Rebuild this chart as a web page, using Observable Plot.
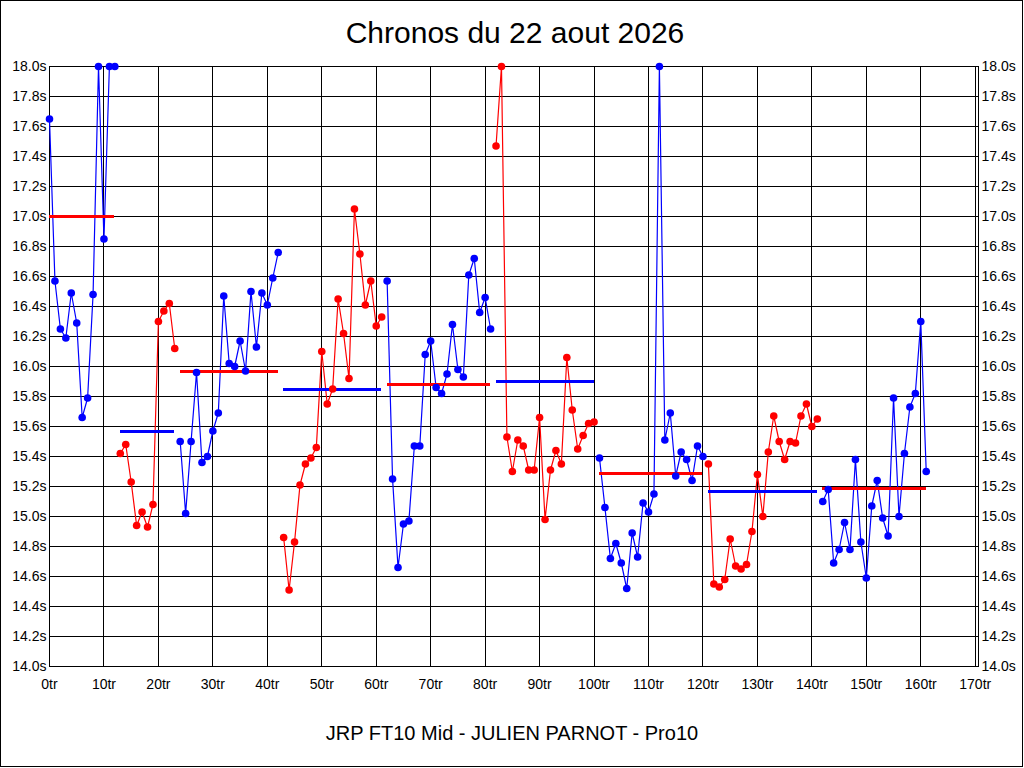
<!DOCTYPE html>
<html>
<head>
<meta charset="utf-8">
<script src="https://cdn.jsdelivr.net/npm/d3@7"></script>
<script src="https://cdn.jsdelivr.net/npm/@observablehq/plot@0.6"></script>
<style>
  html, body { margin: 0; padding: 0; background: #fff; }
  #wrap { position: relative; width: 1024px; height: 768px; background: #fff; overflow: hidden; font-family: "Liberation Sans", Arial, sans-serif; }
  #border { position: absolute; left: 0; top: 0; width: 1023px; height: 767px; box-sizing: border-box; border: 1px solid #000; pointer-events: none; }
  #title { position: absolute; left: 0; width: 1030px; top: 18px; text-align: center; font-size: 30px; line-height: 30px; color: #000; }
  #caption { position: absolute; left: 0; width: 1024px; top: 723px; text-align: center; font-size: 20px; line-height: 20px; color: #000; }
  #chart { position: absolute; left: 0; top: 0; }
</style>
</head>
<body>
<div id="wrap">
  <div id="chart"></div>
  <div id="title">Chronos du 22 aout 2026</div>
  <div id="caption">JRP FT10 Mid - JULIEN PARNOT - Pro10</div>
  <div id="border"></div>
</div>
<script>
// Lap times (seconds) per stint
const stint1 = [17.65, 16.57, 16.25, 16.19, 16.49, 16.29, 15.66, 15.79, 16.48, 18.0, 16.85, 18.0, 18.0];
const stint2 = [15.42, 15.48, 15.23, 14.94, 15.03, 14.93, 15.08, 16.30, 16.37, 16.42, 16.12];
const stint3 = [15.50, 15.02, 15.50, 15.96, 15.36, 15.40, 15.57, 15.69, 16.47, 16.02, 16.00, 16.17, 15.97, 16.50, 16.13, 16.49, 16.41, 16.59, 16.76];
const stint4 = [14.86, 14.51, 14.83, 15.21, 15.35, 15.39, 15.46, 16.10, 15.75, 15.85, 16.45, 16.22, 15.92, 17.05, 16.75, 16.41, 16.57, 16.27, 16.33];
const stint5 = [16.57, 15.25, 14.66, 14.95, 14.97, 15.47, 15.47, 16.08, 16.17, 15.86, 15.82, 15.95, 16.28, 15.98, 15.93, 16.61, 16.72, 16.36, 16.46, 16.25];
const stint6 = [17.47, 18.0, 15.53, 15.30, 15.51, 15.47, 15.31, 15.31, 15.66, 14.98, 15.31, 15.44, 15.35, 16.06, 15.71, 15.45, 15.54, 15.62, 15.63];
const stint7 = [15.39, 15.06, 14.72, 14.82, 14.69, 14.52, 14.89, 14.73, 15.09, 15.03, 15.15, 18.0, 15.51, 15.69, 15.27, 15.43, 15.38, 15.24, 15.47, 15.40];
const stint8 = [15.35, 14.55, 14.53, 14.58, 14.85, 14.67, 14.65, 14.68, 14.90, 15.28, 15.00, 15.43, 15.67, 15.50, 15.38, 15.50, 15.49, 15.67, 15.75, 15.60, 15.65];
const stint9 = [15.10, 15.18, 14.69, 14.78, 14.96, 14.78, 15.38, 14.83, 14.59, 15.07, 15.24, 14.99, 14.87, 15.79, 15.00, 15.42, 15.73, 15.82, 16.30, 15.30];

// First lap number of each stint
const stintStart = [0, 13, 24, 43, 62, 82, 101, 121, 142];
// Average line of each stint (seconds)
const stintAvg = [17.00, 15.57, 15.97, 15.85, 15.88, 15.90, 15.29, 15.17, 15.19];

// Axis ticks
const yTicks = d3.range(0, 21).map(i => +(14 + i * 0.2).toFixed(1));
const xTicks = d3.range(0, 18).map(i => i * 10);

const stints = [stint1, stint2, stint3, stint4, stint5, stint6, stint7, stint8, stint9];
const colors = ["#0000ff", "#ff0000"];

const rows = [];
const avgRows = [];
stints.forEach((s, k) => {
  const col = colors[k % 2];
  s.forEach((t, i) => rows.push({lap: stintStart[k] + i, t, stint: k, color: col}));
  avgRows.push({
    start: stintStart[k],
    end: stintStart[k] + s.length - 1,
    avg: stintAvg[k],
    color: colors[(k + 1) % 2]
  });
});

const chart = Plot.plot({
  width: 1024,
  height: 768,
  marginLeft: 49,
  marginRight: 46,
  marginTop: 66,
  marginBottom: 102,
  style: {fontFamily: "'Liberation Sans', Arial, sans-serif", fontSize: "14px", color: "#000", background: "transparent"},
  x: {domain: [0, 170.6], axis: null},
  y: {domain: [14, 18], axis: null},
  color: {type: "identity"},
  marks: [
    Plot.gridY(yTicks, {stroke: "#000", strokeOpacity: 1, strokeWidth: 1, shapeRendering: "crispEdges"}),
    Plot.gridX(xTicks, {stroke: "#000", strokeOpacity: 1, strokeWidth: 1, shapeRendering: "crispEdges"}),
    Plot.frame({stroke: "#000", shapeRendering: "crispEdges"}),
    Plot.line(rows, {x: "lap", y: "t", z: "stint", stroke: "color", strokeWidth: 1.2, clip: true}),
    Plot.ruleY(avgRows, {y: "avg", x1: "start", x2: "end", stroke: "color", strokeWidth: 3, shapeRendering: "crispEdges"}),
    Plot.dot(rows, {x: "lap", y: "t", fill: "color", r: 3.8, stroke: null}),
    Plot.axisY(yTicks, {anchor: "left", tickSize: 0, tickPadding: 3, tickFormat: d => d.toFixed(1) + "s", label: null}),
    Plot.axisY(yTicks, {anchor: "right", tickSize: 0, tickPadding: 3, tickFormat: d => d.toFixed(1) + "s", label: null}),
    Plot.axisX(xTicks, {anchor: "bottom", tickSize: 0, tickPadding: 13, tickFormat: d => d + "tr", label: null})
  ]
});
document.getElementById("chart").appendChild(chart);
</script>
</body>
</html>
